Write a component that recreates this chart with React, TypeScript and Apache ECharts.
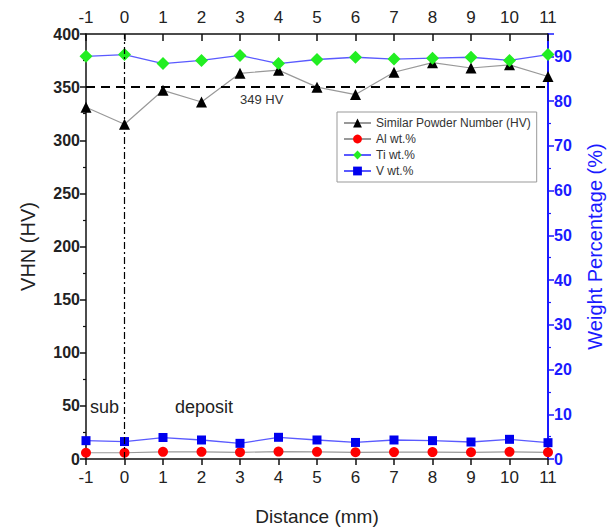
import React, { useEffect, useRef } from "react";
import * as echarts from "echarts";

const distances = [-1, 0, 1, 2, 3, 4, 5, 6, 7, 8, 9, 10, 11];
const hardness = [331, 315, 347, 336, 363, 366, 350, 343, 364, 373, 368, 371, 360];
const alPct = [1.4, 1.4, 1.6, 1.6, 1.5, 1.65, 1.6, 1.5, 1.55, 1.55, 1.5, 1.6, 1.5];
const tiPct = [90.0, 90.4, 88.4, 89.1, 90.2, 88.4, 89.3, 89.8, 89.4, 89.6, 89.8, 89.1, 90.4];
const vPct = [4.1, 3.9, 4.8, 4.25, 3.5, 4.85, 4.25, 3.7, 4.25, 4.1, 3.8, 4.4, 3.65];
const refHardness = 350;
const refLabel = "349 HV";
const interfaceX = 0;

const FONT = "Liberation Sans, Arial, sans-serif";

const pairs = (ys: number[]) => distances.map((x, i) => [x, ys[i]]);

export default function App() {
  const ref = useRef<HTMLDivElement>(null);
  useEffect(() => {
    if (!ref.current) return;
    const chart = echarts.init(ref.current, null, { renderer: "svg" });
    const xCommon = {
      type: "value",
      min: -1,
      max: 11,
      interval: 1,
      splitLine: { show: false },
      axisLine: { onZero: false, lineStyle: { color: "#111", width: 1.5 } },
    };
    chart.setOption({
      animation: false,
      backgroundColor: "#fff",
      textStyle: { fontFamily: FONT },
      grid: { left: 86, right: 65, top: 34, bottom: 72, containLabel: false, outerBoundsMode: "none" },
      xAxis: [
        {
          ...xCommon,
          position: "bottom",
          name: "Distance (mm)",
          nameLocation: "middle",
          nameGap: 48,
          nameTextStyle: { fontSize: 19, color: "#222", fontFamily: FONT },
          axisTick: { inside: false, length: 6, lineStyle: { color: "#111", width: 1.5 } },
          axisLabel: { fontSize: 17, color: "#222", margin: 10, fontFamily: FONT },
        },
        {
          ...xCommon,
          position: "top",
          axisTick: { inside: true, length: 7, lineStyle: { color: "#111", width: 1.5 } },
          axisLabel: { fontSize: 17, color: "#222", margin: 8, fontFamily: FONT },
        },
      ],
      yAxis: [
        {
          type: "value",
          min: 0,
          max: 400,
          interval: 50,
          position: "left",
          name: "VHN (HV)",
          nameLocation: "middle",
          nameGap: 48,
          nameTextStyle: { fontSize: 20, color: "#222", fontFamily: FONT },
          splitLine: { show: false },
          axisLine: { show: true, onZero: false, lineStyle: { color: "#111", width: 1.5 } },
          axisTick: { show: true, length: 6, lineStyle: { color: "#111", width: 1.5 } },
          minorTick: { show: true, splitNumber: 2, length: 3, lineStyle: { color: "#111", width: 1.2 } },
          axisLabel: { fontSize: 16, fontWeight: "bold", color: "#222", margin: 6, fontFamily: FONT },
        },
        {
          type: "value",
          min: 0,
          max: 95,
          interval: 10,
          position: "right",
          name: "Weight Percentage (%)",
          nameLocation: "middle",
          nameGap: 37,
          nameRotate: 90,
          nameTextStyle: { fontSize: 20, color: "#1a1aff", fontFamily: FONT },
          splitLine: { show: false },
          axisLine: { show: true, onZero: false, lineStyle: { color: "#1a1aff", width: 2 } },
          axisTick: { show: true, length: 6, lineStyle: { color: "#1a1aff", width: 1.5 } },
          minorTick: { show: true, splitNumber: 2, length: 3, lineStyle: { color: "#1a1aff", width: 1.2 } },
          axisLabel: {
            fontSize: 16,
            fontWeight: "bold",
            color: "#1a1aff",
            margin: 6,
            fontFamily: FONT,
            showMaxLabel: false,
          },
        },
      ],
      legend: {
        orient: "vertical",
        left: 337,
        top: 112,
        itemWidth: 27,
        itemHeight: 11,
        itemGap: 4,
        padding: [5, 6, 5, 6],
        backgroundColor: "#fff",
        borderColor: "#999",
        borderWidth: 1,
        textStyle: { fontSize: 12, color: "#333", fontFamily: FONT },
        data: ["Similar Powder Number (HV)", "Al wt.%", "Ti wt.%", "V wt.%"],
      },
      series: [
        {
          name: "Similar Powder Number (HV)",
          type: "line",
          xAxisIndex: 0,
          yAxisIndex: 0,
          data: pairs(hardness),
          symbol: "triangle",
          symbolSize: 11,
          itemStyle: { color: "#000" },
          lineStyle: { color: "#999", width: 1.2 },
          markLine: {
            silent: true,
            symbol: "none",
            label: { show: false },
            data: [
              { yAxis: refHardness, lineStyle: { type: [9, 6], color: "#000", width: 2 } },
              { xAxis: interfaceX, lineStyle: { type: [7, 3, 2, 3], color: "#000", width: 1.2 } },
            ],
          },
        },
        {
          name: "Al wt.%",
          type: "line",
          xAxisIndex: 0,
          yAxisIndex: 1,
          data: pairs(alPct),
          symbol: "circle",
          symbolSize: 10,
          itemStyle: { color: "#ff0000" },
          lineStyle: { color: "#999", width: 1.2 },
        },
        {
          name: "Ti wt.%",
          type: "line",
          xAxisIndex: 0,
          yAxisIndex: 1,
          data: pairs(tiPct),
          symbol: "diamond",
          symbolSize: 13,
          itemStyle: { color: "#22ee22" },
          lineStyle: { color: "#5a5aff", width: 1.3 },
        },
        {
          name: "V wt.%",
          type: "line",
          xAxisIndex: 0,
          yAxisIndex: 1,
          data: pairs(vPct),
          symbol: "rect",
          symbolSize: 9,
          itemStyle: { color: "#0000ee" },
          lineStyle: { color: "#5a5aff", width: 1.3 },
        },
      ],
      graphic: [
        { type: "text", left: 240, top: 93, style: { text: refLabel, fontSize: 13, fill: "#333", fontFamily: FONT } },
        { type: "text", left: 90, top: 398, style: { text: "sub", fontSize: 18, fill: "#222", fontFamily: FONT } },
        { type: "text", left: 175, top: 398, style: { text: "deposit", fontSize: 18, fill: "#222", fontFamily: FONT } },
      ],
    });
    return () => chart.dispose();
  }, []);
  return (
    <div
      ref={ref}
      style={{ position: "absolute", left: 0, top: 0, width: 613, height: 531 }}
    />
  );
}
